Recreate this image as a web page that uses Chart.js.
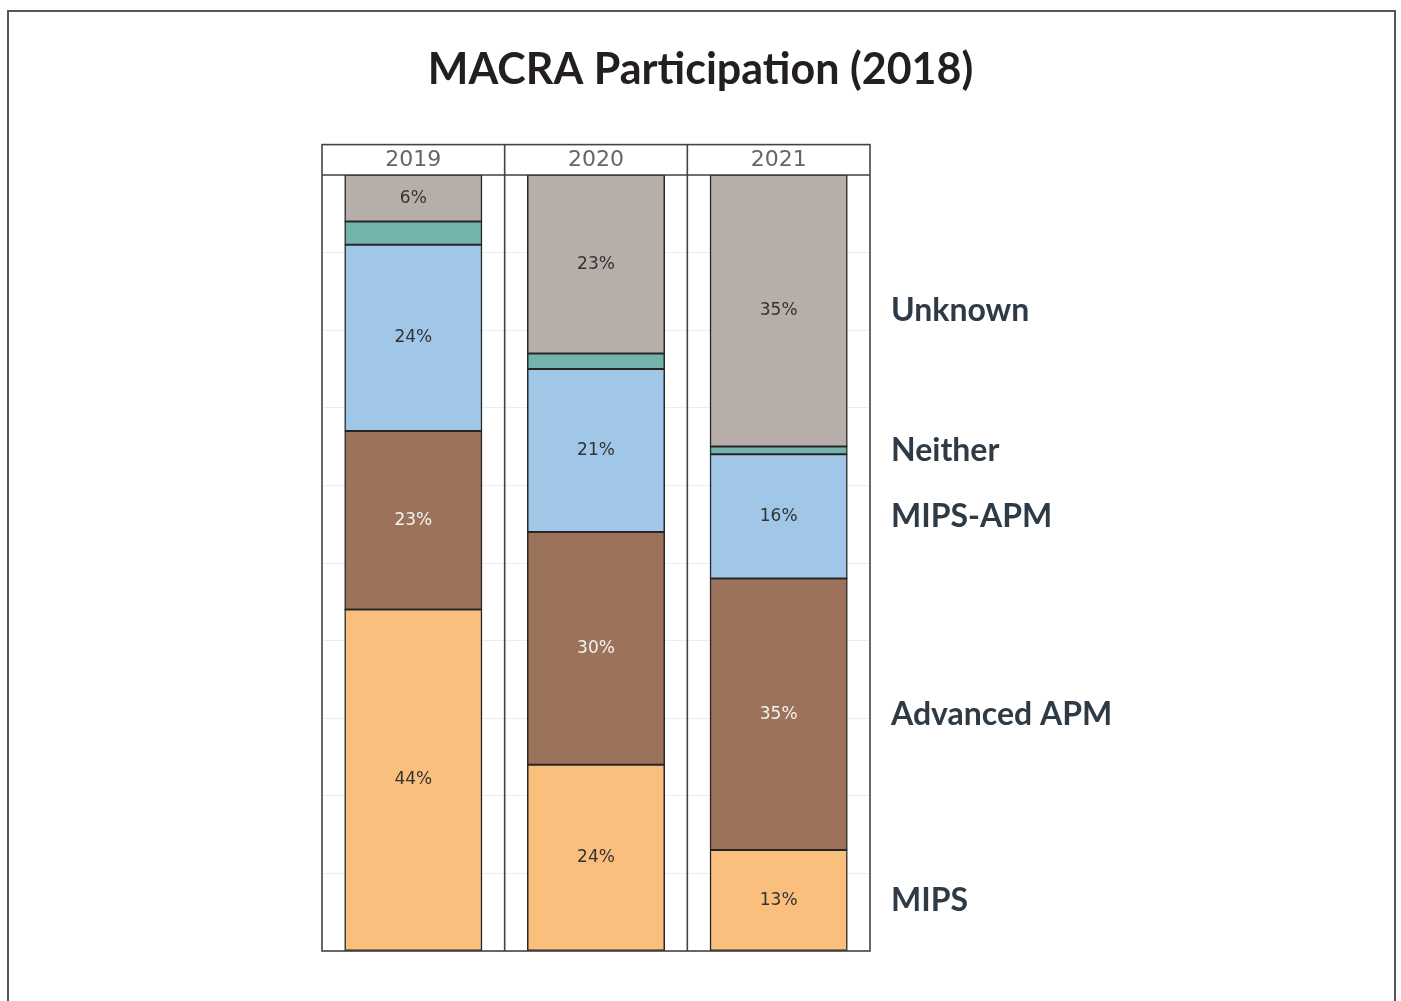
<!DOCTYPE html>
<html><head><meta charset="utf-8">
<script src="https://cdn.jsdelivr.net/npm/chart.js@4.4.0/dist/chart.umd.min.js"></script>
<style>html,body{margin:0;padding:0;background:#fff;}canvas{display:block}</style>
</head><body>
<canvas id="c" width="1401" height="1001"></canvas>
<script>
const chartTitle = 'MACRA Participation (2018)';
const years = ['2019', '2020', '2021'];
const seriesNames = ['MIPS', 'Advanced APM', 'MIPS-APM', 'Neither', 'Unknown'];
const mips = [44, 24, 13];
const advancedApm = [23, 30, 35];
const mipsApm = [24, 21, 16];
const neither = [3, 2, 1];
const unknown = [6, 23, 35];
const seriesValues = [mips, advancedApm, mipsApm, neither, unknown];

const colors = ['#fbbf7d', '#9c735a', '#a0c7e7', '#73b3ab', '#b8aea9'];
const labelColors = ['#333333', '#f2f2f2', '#333333', '#333333', '#333333'];

const lastIdx = years.length - 1;
function labelAnchors() {
  let acc = 0;
  return seriesValues.map(s => { const c = acc + s[lastIdx] / 2; acc += s[lastIdx]; return c; });
}

const pageFrame = {
  id: 'pageFrame',
  beforeDraw(chart) {
    const ctx = chart.ctx;
    ctx.save();
    ctx.fillStyle = '#ffffff';
    ctx.fillRect(0, 0, chart.width, chart.height);
    ctx.strokeStyle = '#555555';
    ctx.lineWidth = 2;
    ctx.strokeRect(8, 11, 1387, 1200);
    ctx.restore();
  }
};

const panelFrame = {
  id: 'panelFrame',
  afterDraw(chart) {
    const ctx = chart.ctx;
    const a = chart.chartArea;
    const xs = chart.scales.x;
    const headTop = xs.top;
    ctx.save();
    ctx.strokeStyle = '#444444';
    ctx.lineWidth = 1.6;
    ctx.strokeRect(a.left, headTop, a.right - a.left, a.bottom - headTop);
    ctx.beginPath();
    ctx.moveTo(a.left, a.top); ctx.lineTo(a.right, a.top);
    for (let i = 0; i < years.length - 1; i++) {
      const bx = (xs.getPixelForValue(i) + xs.getPixelForValue(i + 1)) / 2;
      ctx.moveTo(bx, headTop); ctx.lineTo(bx, a.bottom);
    }
    ctx.stroke();
    ctx.restore();
  }
};

const valueLabels = {
  id: 'valueLabels',
  afterDatasetsDraw(chart) {
    const ctx = chart.ctx;
    ctx.save();
    ctx.font = '17px "DejaVu Sans"';
    ctx.textAlign = 'center';
    ctx.textBaseline = 'middle';
    chart.data.datasets.forEach((ds, di) => {
      const meta = chart.getDatasetMeta(di);
      meta.data.forEach((el, i) => {
        const v = ds.data[i];
        if (v < 5) return;
        ctx.fillStyle = labelColors[di];
        ctx.fillText(v + '%', el.x, (el.y + el.base) / 2);
      });
    });
    ctx.restore();
  }
};

new Chart(document.getElementById('c'), {
  type: 'bar',
  data: {
    labels: years,
    datasets: seriesNames.map((name, i) => ({
      label: name,
      data: seriesValues[i],
      backgroundColor: colors[i],
      borderColor: '#262626',
      borderWidth: 1.5,
      borderSkipped: false,
      inflateAmount: 0.5,
      categoryPercentage: 1,
      barPercentage: 0.75
    }))
  },
  options: {
    responsive: false,
    animation: false,
    layout: { padding: { top: 0, bottom: 50, left: 0, right: 0 } },
    plugins: {
      legend: { display: false },
      tooltip: { enabled: false },
      title: {
        display: true,
        text: chartTitle,
        color: '#231f20',
        font: { family: 'Lato', size: 43, weight: 'bold', lineHeight: 1.2 },
        padding: { top: 44, bottom: 49 }
      }
    },
    scales: {
      x: {
        position: 'top',
        stacked: true,
        grid: { display: false, drawTicks: false },
        border: { display: false },
        ticks: { color: '#666666', font: { family: 'DejaVu Sans', size: 22, lineHeight: 1.2 }, padding: 2 }
      },
      y: {
        position: 'left',
        stacked: true,
        min: 0,
        max: 100,
        ticks: { display: false, stepSize: 10 },
        grid: { color: '#ededed', drawTicks: false },
        border: { display: false },
        afterFit(s) { s.width = 322; }
      },
      y2: {
        type: 'linear',
        position: 'right',
        min: 0,
        max: 100,
        grid: { display: false, drawTicks: false },
        border: { display: false },
        ticks: {
          autoSkip: false,
          padding: 21,
          color: '#2e3b47',
          font: { family: 'Lato', size: 32, weight: 'bold' },
          callback: (v, i) => seriesNames[i]
        },
        afterBuildTicks(s) { s.ticks = labelAnchors().map(v => ({ value: v })); },
        afterFit(s) { s.width = 531; }
      }
    }
  },
  plugins: [pageFrame, panelFrame, valueLabels]
});
</script>
</body></html>
